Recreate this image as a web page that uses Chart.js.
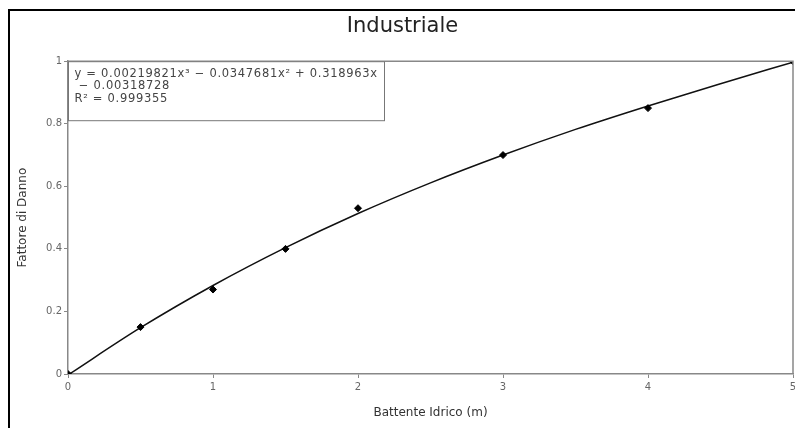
<!DOCTYPE html>
<html>
<head>
<meta charset="utf-8">
<script src="https://cdn.jsdelivr.net/npm/chart.js@4.4.0/dist/chart.umd.min.js"></script>
<style>
  html, body { margin: 0; padding: 0; background: #fff; }
  #wrap { width: 795px; height: 428px; position: relative; }
</style>
</head>
<body>
<div id="wrap"><canvas id="chart" width="795" height="428"></canvas></div>
<script>
// measured points (Battente Idrico vs Fattore di Danno)
const depths = [0, 0.5, 1, 1.5, 2, 3, 4, 5];
const damage = [0, 0.15, 0.27, 0.40, 0.53, 0.70, 0.85, 1.0];

// trend line
const fitX = [0, 0.5, 1, 1.5, 2, 2.5, 3, 3.5, 4, 4.5, 5];
const fitY = [-0.003, 0.148, 0.283, 0.404, 0.513, 0.611, 0.700, 0.782, 0.857, 0.928, 0.997];

const xTicks = [0, 1, 2, 3, 4, 5];
const yTicks = [0, 0.2, 0.4, 0.6, 0.8, 1];

const eqLines = [
  'y = 0.00219821x\u00b3 \u2212 0.0347681x\u00b2 + 0.318963x',
  ' \u2212 0.00318728',
  'R\u00b2 = 0.999355'
];

const FONT = "'DejaVu Sans', Verdana, sans-serif";

// outer frame, plot box and equation box
const decorPlugin = {
  id: 'decor',
  beforeDraw(chart) {
    const ctx = chart.ctx;
    ctx.save();
    ctx.strokeStyle = '#000';
    ctx.lineWidth = 2;
    ctx.beginPath();
    ctx.moveTo(9, 428);
    ctx.lineTo(9, 10);
    ctx.lineTo(795, 10);
    ctx.stroke();
    ctx.restore();
  },
  afterDatasetsDraw(chart) {
    const ctx = chart.ctx;
    const a = chart.chartArea;
    ctx.save();
    ctx.strokeStyle = '#888';
    ctx.lineWidth = 1.5;
    ctx.beginPath();
    ctx.moveTo(a.left, a.top);
    ctx.lineTo(a.right, a.top);
    ctx.lineTo(a.right, a.bottom);
    ctx.stroke();

    // equation box
    const bx = a.left + 0.5, by = a.top + 0.5, bw = 316, bh = 59;
    ctx.fillStyle = '#fff';
    ctx.fillRect(bx, by, bw, bh);
    ctx.strokeStyle = '#777';
    ctx.lineWidth = 1;
    ctx.strokeRect(bx, by, bw, bh);
    ctx.fillStyle = '#444';
    ctx.font = '11.5px ' + FONT;
    ctx.letterSpacing = '0.7px';
    ctx.textBaseline = 'middle';
    eqLines.forEach((t, i) => ctx.fillText(t, bx + 6, by + 12 + i * 12.5));
    ctx.restore();
  }
};

new Chart(document.getElementById('chart'), {
  type: 'scatter',
  data: {
    datasets: [
      {
        label: 'Fit',
        data: fitX.map((x, i) => ({ x: x, y: fitY[i] })),
        showLine: true,
        borderColor: '#111',
        borderWidth: 1.5,
        pointRadius: 0,
        tension: 0.4,
        cubicInterpolationMode: 'monotone',
        order: 2
      },
      {
        label: 'Dati',
        data: depths.map((x, i) => ({ x: x, y: damage[i] })),
        showLine: false,
        backgroundColor: '#000',
        borderColor: '#000',
        pointStyle: 'rectRot',
        pointRadius: 3.5,
        order: 1
      }
    ]
  },
  options: {
    responsive: false,
    animation: false,
    layout: { autoPadding: false, padding: { top: 10, left: 12, right: 2, bottom: 8 } },
    plugins: {
      legend: { display: false },
      tooltip: { enabled: false },
      title: {
        display: true,
        text: 'Industriale',
        color: '#222',
        font: { family: FONT, size: 21, weight: 'normal' },
        padding: { top: 4, bottom: 22 }
      }
    },
    scales: {
      x: {
        type: 'linear',
        min: 0, max: 5,
        afterBuildTicks: s => { s.ticks = xTicks.map(v => ({ value: v })); },
        afterFit: s => { s.height = 46; s.paddingLeft = 0; s.paddingRight = 0; },
        ticks: {
          color: '#666', font: { family: FONT, size: 10 }, padding: 3,
          callback: v => String(v)
        },
        grid: { drawOnChartArea: false, tickLength: 4, color: '#888' },
        border: { color: '#888', width: 1.5 },
        title: {
          display: true,
          text: 'Battente Idrico (m)',
          color: '#333',
          font: { family: FONT, size: 12 },
          padding: { top: 8, bottom: 0 }
        }
      },
      y: {
        type: 'linear',
        min: 0, max: 1,
        afterBuildTicks: s => { s.ticks = yTicks.map(v => ({ value: v })); },
        afterFit: s => { s.width = 56; s.paddingTop = 0; s.paddingBottom = 0; },
        ticks: {
          color: '#666', font: { family: FONT, size: 10 }, padding: 2,
          callback: v => String(v)
        },
        grid: { drawOnChartArea: false, tickLength: 4, color: '#888' },
        border: { color: '#888', width: 1.5 },
        title: {
          display: true,
          text: 'Fattore di Danno',
          color: '#333',
          font: { family: FONT, size: 12 },
          padding: { top: 4, bottom: 0 }
        }
      }
    }
  },
  plugins: [decorPlugin]
});
</script>
</body>
</html>
